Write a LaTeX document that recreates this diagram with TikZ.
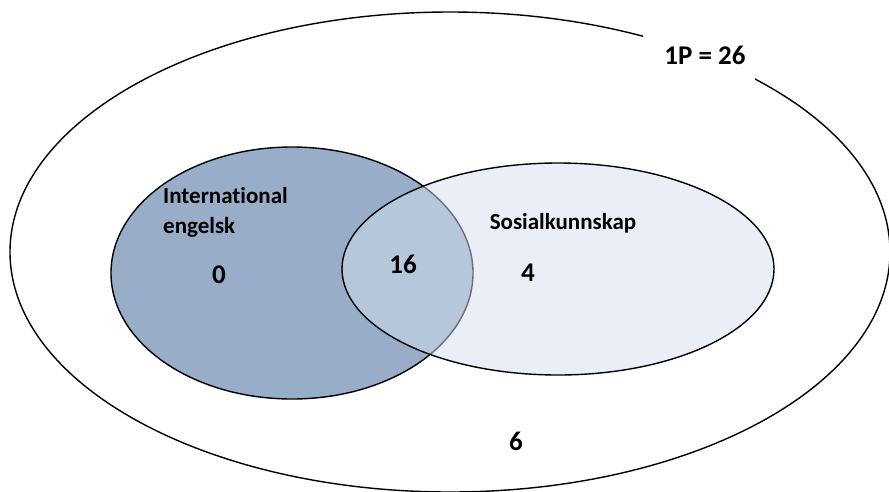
\documentclass[tikz,border=0pt]{standalone}
\usepackage{fontspec}
\setmainfont[Ligatures=CommonOff]{Carlito}
\definecolor{setblue}{HTML}{97ADC8}
\definecolor{setlight}{HTML}{D5DFEF}
\begin{document}
\begin{tikzpicture}[x=1pt,y=-1pt,
  lbl/.style={font=\bfseries\fontsize{23}{30}\selectfont, inner sep=0pt},
  num/.style={font=\bfseries\fontsize{27}{30}\selectfont, inner sep=0pt},
  setline/.style={line width=1.4pt}]
\useasboundingbox (0,0) rectangle (889,491);
\clip (0,0) rectangle (889,491);
% outer universe
\draw[setline] (450,252) ellipse [x radius=440, y radius=240];
% white box behind universe label
\fill[white] (643,22) rectangle (755,86);
\node[num, anchor=center] (total) at (705,55) {1P = 26};
% International engelsk
\draw[setline, fill=setblue] (292,273) ellipse [x radius=181, y radius=126];
% Sosialkunnskap (semi-transparent)
\draw[setline, fill=setlight, fill opacity=0.5] (558,269) ellipse [x radius=216, y radius=106];
% labels
\node[lbl, anchor=west, align=left] (ie) at (163,212) {International\\engelsk};
\node[lbl] (sk) at (563,223) {Sosialkunnskap};
\node[num] (n0) at (219,275) {0};
\node[num] (n16) at (403,264) {16};
\node[num] (n4) at (528,273) {4};
\node[num] (n6) at (516,441) {6};
\end{tikzpicture}
\end{document}
